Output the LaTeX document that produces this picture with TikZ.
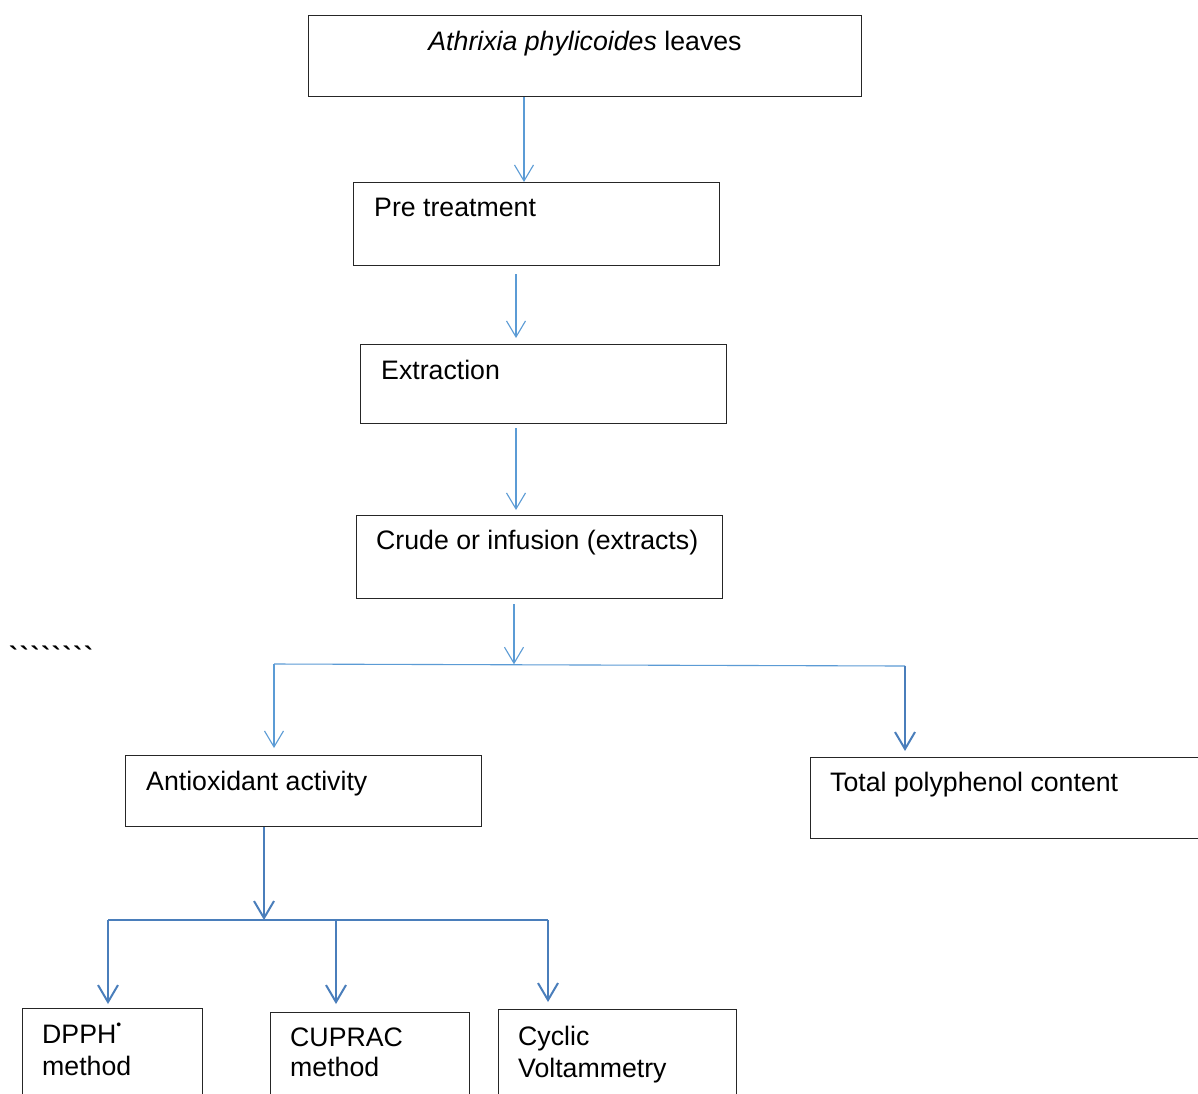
\documentclass[tikz,border=0pt]{standalone}
\usepackage{fontspec}
\setmainfont{Liberation Sans}
\newfontfamily\rawsans[Ligatures=TeXOff]{Liberation Sans}
\usetikzlibrary{arrows.meta}
\definecolor{thinblue}{HTML}{5B9BD5}
\definecolor{thickblue}{HTML}{4A7EBB}
\newcommand{\gravetick}{\char96\kern1.8pt}
\begin{document}
\begin{tikzpicture}[x=1pt,y=-1pt,
  box/.style={draw=black!85, line width=1.3pt, inner sep=0pt, anchor=north west},
  txt/.style={anchor=base west, inner sep=0pt, font=\fontsize{26.7}{31}\selectfont},
  thinline/.style={draw=thinblue, line width=1.1pt},
  thinarrow/.style={thinline, -{Straight Barb[length=16pt,width=19pt]}},
  thickline/.style={draw=thickblue, line width=2pt},
  thickarrow/.style={thickline, -{Straight Barb[length=17pt,width=20pt]}}
]
\clip (0,0) rectangle (1198,1093);
\fill[white] (0,0) rectangle (1198,1093);

% boxes
\node[box, minimum width=553pt, minimum height=81pt] (leaves) at (308,15) {};
\node[box, minimum width=366pt, minimum height=83pt] (pre) at (353,182) {};
\node[box, minimum width=366pt, minimum height=79pt] (extr) at (360,344) {};
\node[box, minimum width=366pt, minimum height=83pt] (crude) at (356,515) {};
\node[box, minimum width=356pt, minimum height=71pt] (anti) at (125,755) {};
\node[box, minimum width=420pt, minimum height=81pt] (tpc) at (810,757) {};
\node[box, minimum width=180pt, minimum height=120pt] (dpph) at (22,1008) {};
\node[box, minimum width=199pt, minimum height=120pt] (cuprac) at (270,1012) {};
\node[box, minimum width=238pt, minimum height=120pt] (cv) at (498,1009) {};

% texts
\node[txt, anchor=base] (tleaves) at (585,50.5) {\textit{Athrixia phylicoides} leaves};
\node[txt] (tpre) at (374,216.5) {Pre treatment};
\node[txt] (textr) at (381,379.5) {Extraction};
\node[txt] (tcrude) at (376,549.5) {Crude or infusion (extracts)};
\node[txt] (tanti) at (146,790.5) {Antioxidant activity};
\node[txt] (ttpc) at (830,791.7) {Total polyphenol content};
\node[txt] (tdpph) at (42,1043) {DPPH\raisebox{0.5em}{\fontsize{14}{14}\selectfont •}};
\node[txt] (tdpph2) at (42,1075) {method};
\node[txt] (tcup) at (290,1046.7) {CUPRAC};
\node[txt] (tcup2) at (290,1076) {method};
\node[txt] (tcv) at (518,1045) {Cyclic};
\node[txt] (tcv2) at (518,1077) {Voltammetry};
\node[txt] (ticks) at (9,665) {\rawsans\bfseries\gravetick\gravetick\gravetick\gravetick\gravetick\gravetick\gravetick\char96};

% junction coordinates
\coordinate (a2s) at (516,274);
\coordinate (a2e) at (516,338);
\coordinate (a3s) at (516,428);
\coordinate (a3e) at (516,510);
\coordinate (a4s) at (514,604);
\coordinate (j1) at (514,664.3);
\coordinate (jl) at (274,664);
\coordinate (jr) at (905,666);
\coordinate (jle) at (274,748);
\coordinate (jre) at (905,751);
\coordinate (b1) at (264,920);
\coordinate (bl) at (108,920);
\coordinate (bm) at (336,920);
\coordinate (br) at (548,920);
\coordinate (ble) at (108,1004);
\coordinate (bme) at (336,1004);
\coordinate (bre) at (548,1002);

% connectors
\draw[thinarrow] (leaves.south -| 524,0) -- (pre.north -| 524,0);
\draw[thinarrow] (a2s) -- (a2e);
\draw[thinarrow] (a3s) -- (a3e);
\draw[thinarrow] (a4s) -- (j1);
\draw[thinline] (jl) -- (jr);
\draw[thinarrow] (jl) -- (jle);
\draw[thickarrow] (jr) -- (jre);
\draw[thickarrow] (anti.south -| b1) -- (b1);
\draw[thickline] (bl) -- (br);
\draw[thickarrow] (bl) -- (ble);
\draw[thickarrow] (bm) -- (bme);
\draw[thickarrow] (br) -- (bre);
\end{tikzpicture}
\end{document}
